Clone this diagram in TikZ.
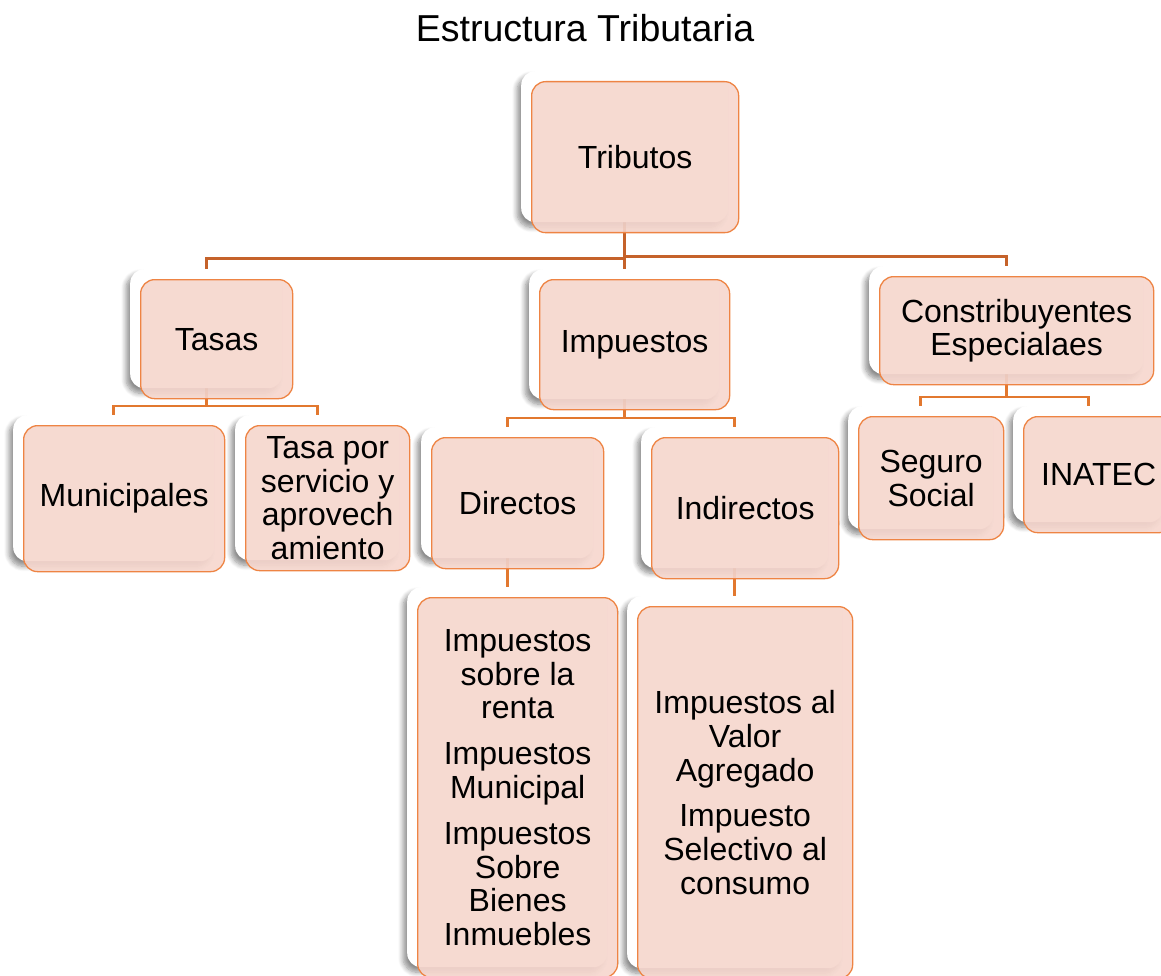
\documentclass[tikz,border=0pt]{standalone}
\usepackage{fontspec}
\setmainfont{Liberation Sans}
\usetikzlibrary{shadows.blur}

\definecolor{rama}{HTML}{C5622A}
\definecolor{ramita}{HTML}{E2782F}
\definecolor{borde}{HTML}{EE8444}
\definecolor{relleno}{HTML}{F6D6CD}

\pgfdeclarelayer{fondo}
\pgfsetlayers{fondo,main}

\tikzset{
  card/.style={rectangle, rounded corners=14pt, fill=white, anchor=north west, inner sep=0pt,
    blur shadow={shadow xshift=-4pt, shadow yshift=-5pt, shadow opacity=45,
      shadow blur radius=5pt, shadow blur steps=8}},
  tile/.style={rectangle, rounded corners=14pt, draw=borde, line width=1.3pt, fill=relleno,
    fill opacity=0.9, text opacity=1, align=center, anchor=north west, inner sep=0pt,
    font=\fontsize{32}{33.8}\selectfont},
  rama/.style={draw=rama, line width=3pt},
  ramita/.style={draw=ramita, line width=2.7pt}
}

\begin{document}
\begin{tikzpicture}[x=1pt,y=-1pt]
\useasboundingbox (0,0) rectangle (1161,976);
\clip (0,0) rectangle (1161,976);

\node[font=\fontsize{37.5}{40}\selectfont] (titulo) at (585,28) {Estructura Tributaria};

% back card + front tile for every box
\foreach \n/\x/\y/\w/\h/\txt in {
  tributos/521/71/207/151/Tributos,
  tasas/130/269/152/119/Tasas,
  impuestos/529/269/190/130/Impuestos,
  especiales/869/266/274/108/{Constribuyentes\\Especialaes},
  municipales/13/415/201/146/Municipales,
  servicio/235/415/164/145/{Tasa por\\servicio y\\aprovech\\amiento},
  directos/421/427/172/131/Directos,
  indirectos/641/427/187/141/Indirectos,
  seguro/848/406/145/123/{Seguro\\Social},
  inatec/1013/406/150/116/INATEC,
  renta/407/587/200/380/{Impuestos\\sobre la\\renta\\[12pt]Impuestos\\Municipal\\[12pt]Impuestos\\Sobre\\Bienes\\Inmuebles},
  valor/627/596/215/372/{Impuestos al\\Valor\\Agregado\\[12pt]Impuesto\\Selectivo al\\consumo}}
{
  \node[card, minimum width=\w pt, minimum height=\h pt] (\n) at (\x,\y) {};
  \node[tile, minimum width=\w pt, minimum height=\h pt] (\n-t) at (\x+10,\y+10) {\txt};
}

\begin{pgfonlayer}{fondo}
\draw[rama] (tasas.north) -- ++(0,-10) -| (tributos.south);
\draw[rama] (especiales.north) -- ++(0,-9) -| (tributos.south);
\draw[rama] (impuestos.north) -- (impuestos.north |- tributos.south);

\draw[ramita] (municipales.north) -- ++(0,-9) -| (tasas.south);
\draw[ramita] (servicio.north) -- ++(0,-9) -| (tasas.south);
\draw[ramita] (directos.north) -- ++(0,-9) -| (impuestos.south);
\draw[ramita] (indirectos.north) -- ++(0,-9) -| (impuestos.south);
\draw[ramita] (seguro.north) -- ++(0,-9) -| (especiales.south);
\draw[ramita] (inatec.north) -- ++(0,-9) -| (especiales.south);
\draw[ramita] (renta.north) -- (directos.south);
\draw[ramita] (valor.north) -- (indirectos.south);
\end{pgfonlayer}
\end{tikzpicture}
\end{document}
